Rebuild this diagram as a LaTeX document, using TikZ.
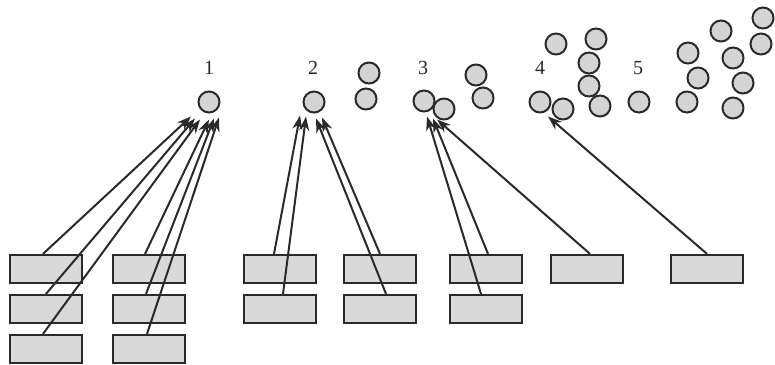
\documentclass[tikz,border=0pt]{standalone}
\usepackage{fontspec}
\setmainfont{Liberation Serif}
\usetikzlibrary{arrows.meta}
\definecolor{boxfill}{HTML}{D9D9D9}
\definecolor{ballfill}{HTML}{D4D4D4}
\definecolor{inkc}{HTML}{2A2A2A}
\begin{document}
\begin{tikzpicture}[x=1pt,y=-1pt,
  slot/.style={draw=inkc,fill=boxfill,line width=2.2pt,minimum width=72pt,minimum height=28pt,inner sep=0pt},
  ball/.style={circle,draw=inkc,fill=ballfill,line width=2pt,minimum size=21pt,inner sep=0pt},
  num/.style={font=\fontsize{20}{22}\selectfont,text=inkc},
  link/.style={draw=inkc,line width=2pt,-{Stealth[length=14pt,width=10pt]}}]
\useasboundingbox (0,0) rectangle (775,364);
% labels
\node[num] (l1) at (209,68) {1};
\node[num] (l2) at (313,68) {2};
\node[num] (l3) at (423,68) {3};
\node[num] (l4) at (540,68) {4};
\node[num] (l5) at (638,68) {5};
% circles
\node[ball] (c1) at (209,102) {};
\node[ball] (c2) at (314,102) {};
\node[ball] (c2a) at (369,73) {};
\node[ball] (c2b) at (366,99) {};
\node[ball] (c3b) at (444,109) {};
\node[ball] (c3) at (424,101) {};
\node[ball] (c3c) at (476,75) {};
\node[ball] (c3d) at (483,98) {};
\node[ball] (c4b) at (563,109) {};
\node[ball] (c4) at (540,102) {};
\node[ball] (c4c) at (556,44) {};
\node[ball] (c4d) at (596,39) {};
\node[ball] (c4e) at (589,63) {};
\node[ball] (c4f) at (589,86) {};
\node[ball] (c4g) at (600,106) {};
\node[ball] (c5) at (639,102) {};
\node[ball] (c5a) at (688,53) {};
\node[ball] (c5b) at (698,78) {};
\node[ball] (c5c) at (687,102) {};
\node[ball] (c5d) at (721,31) {};
\node[ball] (c5e) at (733,58) {};
\node[ball] (c5f) at (743,83) {};
\node[ball] (c5g) at (733,108) {};
\node[ball] (c5h) at (763,18) {};
\node[ball] (c5i) at (761,44) {};
% boxes
\node[slot] (A1) at (46,269) {};
\node[slot] (A2) at (46,309) {};
\node[slot] (A3) at (46,349) {};
\node[slot] (B1) at (149,269) {};
\node[slot] (B2) at (149,309) {};
\node[slot] (B3) at (149,349) {};
\node[slot] (C1) at (280,269) {};
\node[slot] (C2) at (280,309) {};
\node[slot] (D1) at (380,269) {};
\node[slot] (D2) at (380,309) {};
\node[slot] (E1) at (486,269) {};
\node[slot] (E2) at (486,309) {};
\node[slot] (F1) at (587,269) {};
\node[slot] (G1) at (707,269) {};
% connectors
\draw[link] ([xshift=-3pt]A1.north) -- ([shift={(-18,3)}]c1.south);
\draw[link] ([xshift=0pt]A2.north) -- ([shift={(-14,5)}]c1.south);
\draw[link] ([xshift=-3pt]A3.north) -- ([shift={(-9,6)}]c1.south);
\draw[link] ([xshift=-4pt]B1.north) -- ([shift={(0,6)}]c1.south);
\draw[link] ([xshift=-3pt]B2.north) -- ([shift={(5,5)}]c1.south);
\draw[link] ([xshift=-2pt]B3.north) -- ([shift={(10,4)}]c1.south);
\draw[link] ([xshift=-6pt]C1.north) -- ([shift={(-14,2)}]c2.south);
\draw[link] ([xshift=3pt]C2.north) -- ([shift={(-8,3)}]c2.south);
\draw[link] ([xshift=0pt]D1.north) -- ([shift={(8,4)}]c2.south);
\draw[link] ([xshift=6pt]D2.north) -- ([shift={(2,5)}]c2.south);
\draw[link] ([xshift=2pt]E1.north) -- ([shift={(9,6)}]c3.south);
\draw[link] ([xshift=-5pt]E2.north) -- ([shift={(3,4)}]c3.south);
\draw[link] ([xshift=3pt]F1.north) -- ([shift={(-7,-1)}]c3b.south);
\draw[link] ([xshift=0pt]G1.north) -- ([shift={(8,3)}]c4.south);
\end{tikzpicture}
\end{document}
